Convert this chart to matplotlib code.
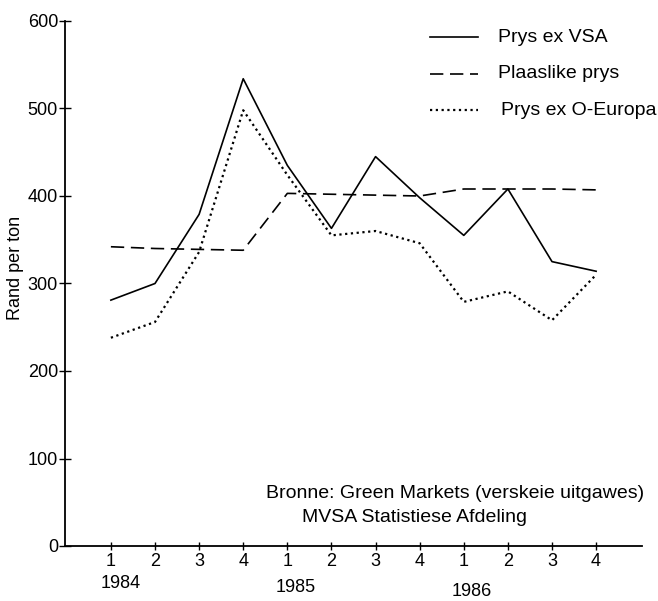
import matplotlib
matplotlib.use("Agg")
import matplotlib.pyplot as plt
import matplotlib.transforms as mtransforms
from matplotlib.lines import Line2D

plt.rcParams["font.family"] = ["Liberation Sans", "DejaVu Sans"]

W, H = 658, 601

# kwartale 1984 - 1986
QUARTERS = ["1", "2", "3", "4", "1", "2", "3", "4", "1", "2", "3", "4"]
YEARS = ["1984", "1985", "1986"]

PRYS_VSA = [281, 300, 379, 534, 435, 363, 445, 398, 355, 408, 325, 314]
PLAASLIK = [342, 340, 339, 338, 403, 402, 401, 400, 408, 408, 408, 407]
PRYS_OEUROPA = [238, 256, 336, 498, 424, 355, 360, 346, 279, 291, 258, 310]

Y_TICKS = [0, 100, 200, 300, 400, 500, 600]

SERIES = [
    ("Prys ex VSA", PRYS_VSA, dict(linewidth=1.2, linestyle="-")),
    ("Plaaslike prys", PLAASLIK, dict(linewidth=1.2, linestyle=(0, (8, 4)))),
    ("Prys ex O-Europa", PRYS_OEUROPA, dict(linewidth=1.6, linestyle=(0, (1, 1.6)))),
]


def px(xp, yp):
    """pixel -> figuur koordinate"""
    return xp / W, 1 - yp / H


def main():
    fig = plt.figure(figsize=(W / 100, H / 100), dpi=100)
    ax = fig.add_axes([65 / W, 1 - 546 / H, 577 / W, 525 / H])

    x = list(range(len(QUARTERS)))

    for name, values, style in SERIES:
        ax.plot(x, values, color="black", label=name, **style)

    ax.set_xlim(-1.04, 12.04)
    ax.set_ylim(0, 600)

    for side in ["top", "right"]:
        ax.spines[side].set_visible(False)
    ax.spines["left"].set_linewidth(1.3)
    ax.spines["bottom"].set_linewidth(1.3)

    ax.set_yticks(Y_TICKS)
    ax.tick_params(axis="y", direction="inout", length=8, width=1, labelsize=13, pad=1)
    ax.set_xticks(x)
    ax.set_xticklabels(QUARTERS)
    ax.tick_params(axis="x", direction="inout", length=6, width=1, labelsize=13, pad=2)

    # label se regterkant (onderkant van die gedraaide teks) by x=24 px
    ax.set_ylabel("Rand per ton", fontsize=13)
    ax.yaxis.set_label_coords((24 - 65) / 577, (546 - 268) / 525)

    # jaartal onder die kwartale
    trans = mtransforms.blended_transform_factory(ax.transData, fig.transFigure)
    for xpos, ypix, year in zip([0.23, 4.2, 8.19], [583, 588, 592], YEARS):
        ax.text(xpos, 1 - ypix / H, year, transform=trans,
                ha="center", va="center", fontsize=13)

    # bronne
    fig.text(*px(266, 494), "Bronne: Green Markets (verskeie uitgawes)",
             fontsize=14, ha="left", va="center")
    fig.text(*px(302, 517), "MVSA Statistiese Afdeling",
             fontsize=14, ha="left", va="center")

    # legende
    rows = [37, 74, 110]
    text_x = [498, 498, 501]
    for (name, _, style), ypix, tx in zip(SERIES, rows, text_x):
        x0, y0 = px(430, ypix)
        x1, _ = px(478, ypix)
        fig.add_artist(Line2D([x0, x1], [y0, y0], transform=fig.transFigure,
                              color="black", **style))
        fig.text(*px(tx, ypix), name, fontsize=14, ha="left", va="center")

    fig.savefig("out.png", dpi=100)
    plt.close(fig)


if __name__ == "__main__":
    main()
